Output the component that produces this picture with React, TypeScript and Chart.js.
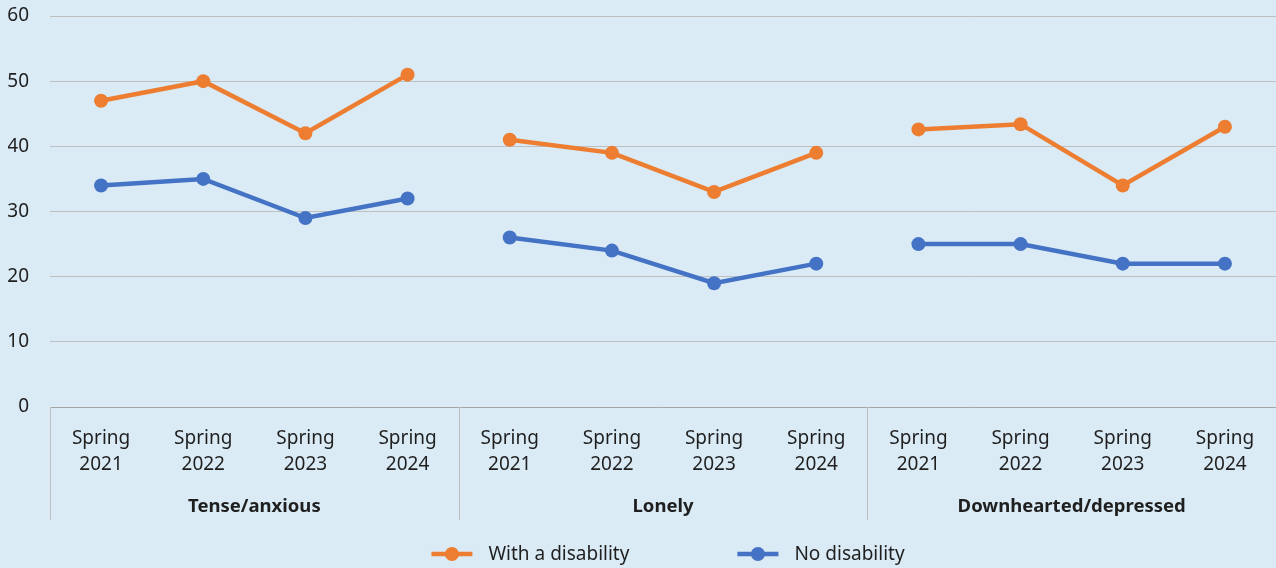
import React, { useEffect, useRef } from "react";
import { Chart, registerables } from "chart.js";

Chart.register(...registerables);

// Survey waves shown for every measure
const periods: string[][] = [
  ["Spring", "2021"],
  ["Spring", "2022"],
  ["Spring", "2023"],
  ["Spring", "2024"],
];
const groups: string[] = ["Tense/anxious", "Lonely", "Downhearted/depressed"];

// Share of respondents (%) per measure and wave
const withDisability: number[] = [47, 50, 42, 51, 41, 39, 33, 39, 42.6, 43.4, 34, 43];
const noDisability: number[] = [34, 35, 29, 32, 26, 24, 19, 22, 25, 25, 22, 22];

const seriesNames = ["With a disability", "No disability"];
const ORANGE = "#ED7D31";
const BLUE = "#4472C4";
const BG = "#DAEBF5";
const TEXT = "#1F1F1F";
const FONT = "'Noto Sans', 'Open Sans', sans-serif";

const labels = groups.flatMap(() => periods);
const perGroup = periods.length;

// Hide the connecting segment between the last wave of one measure and the first of the next
const gapSegment = (color: string) => ({
  borderColor: (ctx: any) => (ctx.p0DataIndex % perGroup === perGroup - 1 ? "rgba(0,0,0,0)" : color),
});

const backgroundPlugin = {
  id: "pageBackground",
  beforeDraw(chart: any) {
    const { ctx, width, height } = chart;
    ctx.save();
    ctx.fillStyle = BG;
    ctx.fillRect(0, 0, width, height);
    ctx.restore();
  },
};

// Separators and measure names under the period labels
const groupAxisPlugin = {
  id: "groupAxis",
  afterDraw(chart: any) {
    const { ctx, chartArea } = chart;
    const x = chart.scales.x;
    const slot = x.getPixelForValue(1) - x.getPixelForValue(0);
    const bottom = x.bottom;
    ctx.save();
    ctx.strokeStyle = "#BFBFBF";
    ctx.lineWidth = 1;
    for (let g = 0; g <= groups.length - 1; g++) {
      const px = Math.round(x.getPixelForValue(g * perGroup) - slot / 2) + 0.5;
      ctx.beginPath();
      ctx.moveTo(px, chartArea.bottom);
      ctx.lineTo(px, bottom);
      ctx.stroke();
    }
    ctx.fillStyle = TEXT;
    ctx.font = `bold 18.5px ${FONT}`;
    ctx.textAlign = "center";
    ctx.textBaseline = "middle";
    groups.forEach((name, g) => {
      const start = x.getPixelForValue(g * perGroup) - slot / 2;
      const end = x.getPixelForValue(g * perGroup + perGroup - 1) + slot / 2;
      ctx.fillText(name, (start + end) / 2, bottom - 13);
    });
    ctx.restore();
  },
};

// Line-and-marker legend under the plot
const legendPlugin = {
  id: "lineLegend",
  afterDraw(chart: any) {
    const { ctx, chartArea, height } = chart;
    const y = height - 14;
    const lineLen = 41;
    const gapText = 16;
    const gapItem = 108;
    ctx.save();
    ctx.font = `19px ${FONT}`;
    const items = chart.data.datasets.map((ds: any) => ({
      text: ds.label,
      color: ds.borderColor,
      w: ctx.measureText(ds.label).width,
    }));
    const total =
      items.reduce((s: number, it: any) => s + lineLen + gapText + it.w, 0) + gapItem * (items.length - 1);
    let cx = (chartArea.left + chartArea.right) / 2 + 5 - total / 2;
    items.forEach((it: any) => {
      ctx.strokeStyle = it.color;
      ctx.lineWidth = 4.5;
      ctx.beginPath();
      ctx.moveTo(cx, y);
      ctx.lineTo(cx + lineLen, y);
      ctx.stroke();
      ctx.fillStyle = it.color;
      ctx.beginPath();
      ctx.arc(cx + lineLen / 2, y, 7, 0, Math.PI * 2);
      ctx.fill();
      ctx.fillStyle = TEXT;
      ctx.textAlign = "left";
      ctx.textBaseline = "middle";
      ctx.fillText(it.text, cx + lineLen + gapText, y + 1);
      cx += lineLen + gapText + it.w + gapItem;
    });
    ctx.restore();
  },
};

export default function App() {
  const canvasRef = useRef<HTMLCanvasElement | null>(null);

  useEffect(() => {
    if (!canvasRef.current) return;
    const chart = new Chart(canvasRef.current, {
      type: "line",
      data: {
        labels,
        datasets: [
          {
            label: seriesNames[0],
            data: withDisability,
            borderColor: ORANGE,
            backgroundColor: ORANGE,
            borderWidth: 4.5,
            pointRadius: 7,
            pointHoverRadius: 7,
            pointBorderWidth: 0,
            segment: gapSegment(ORANGE),
          },
          {
            label: seriesNames[1],
            data: noDisability,
            borderColor: BLUE,
            backgroundColor: BLUE,
            borderWidth: 4.5,
            pointRadius: 7,
            pointHoverRadius: 7,
            pointBorderWidth: 0,
            segment: gapSegment(BLUE),
          },
        ],
      },
      options: {
        responsive: false,
        animation: false,
        layout: { autoPadding: false, padding: { top: 16, left: 8, right: 0, bottom: 48 } },
        plugins: {
          legend: { display: false },
          tooltip: { enabled: false },
        },
        scales: {
          x: {
            offset: true,
            grid: { display: false, drawTicks: false },
            border: { display: true, color: "#A6A6A6", width: 1 },
            ticks: {
              color: TEXT,
              font: { family: FONT, size: 19, lineHeight: 1.4 },
              padding: 18,
              maxRotation: 0,
              autoSkip: false,
            },
            afterFit: (scale: any) => {
              scale.height = 113;
              scale.paddingLeft = 0;
              scale.paddingRight = 0;
            },
          },
          y: {
            min: 0,
            max: 60,
            grid: { color: "#BFBFBF", lineWidth: 1, drawTicks: false },
            border: { display: false },
            ticks: {
              stepSize: 10,
              color: TEXT,
              font: { family: FONT, size: 19 },
              padding: 21,
            },
            afterFit: (scale: any) => {
              scale.width = 42;
              scale.paddingTop = 0;
              scale.paddingBottom = 0;
            },
          },
        },
      },
      plugins: [backgroundPlugin, groupAxisPlugin, legendPlugin],
    });
    return () => chart.destroy();
  }, []);

  return (
    <div style={{ position: "fixed", left: 0, top: 0, width: 1276, height: 568, background: BG }}>
      <canvas ref={canvasRef} width={1276} height={568} style={{ display: "block" }} />
    </div>
  );
}
